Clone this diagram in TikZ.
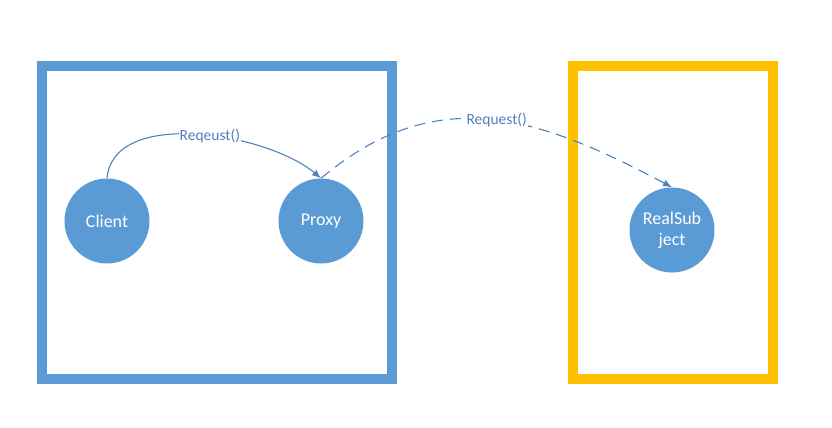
\documentclass[tikz,border=0pt]{standalone}
\usepackage{fontspec}
\setmainfont{Carlito}
\usepackage{tikz}
\usetikzlibrary{arrows.meta}
\definecolor{boxblue}{HTML}{5B9BD5}
\definecolor{boxyellow}{HTML}{FFC000}
\definecolor{lineblue}{HTML}{4F81BD}
\tikzstyle{frame} = [line width=10pt]
\tikzstyle{actor} = [circle, fill=boxblue, text=white,
	minimum size=85pt, inner sep=0pt, align=center,
	font=\fontsize{18}{21}\selectfont]
\tikzstyle{call} = [-{Latex[length=9pt,width=7pt]}, lineblue, line width=1.1pt]
\tikzstyle{msg} = [fill=white, text=lineblue, inner sep=1pt,
	font=\fontsize{15.5}{18}\selectfont]

\begin{document}
\begin{tikzpicture}[x=1pt, y=-1pt]
			\useasboundingbox (0,0) rectangle (832,428);
			\draw [frame, boxblue] (42,66) rectangle (392,379);
			\draw [frame, boxyellow] (573,66) rectangle (773,379);
			
			\node (client)[actor] at (107,221) {Client};
			\node (proxy)[actor] at (321,221) {Proxy};
			\node (realsub)[actor] at (672,230) {RealSub\\ject};
			
			\draw [call] (client.north) to[out=85, in=140, looseness=0.85]
				node [msg, pos=0.55] {Reqeust()} (proxy.north);
			\draw [call, dash pattern=on 11pt off 7pt] (proxy.north) to[out=40, in=152, looseness=1.1]
				node [msg, pos=0.52] {Request()} (realsub.north);
		\end{tikzpicture}
\end{document}
